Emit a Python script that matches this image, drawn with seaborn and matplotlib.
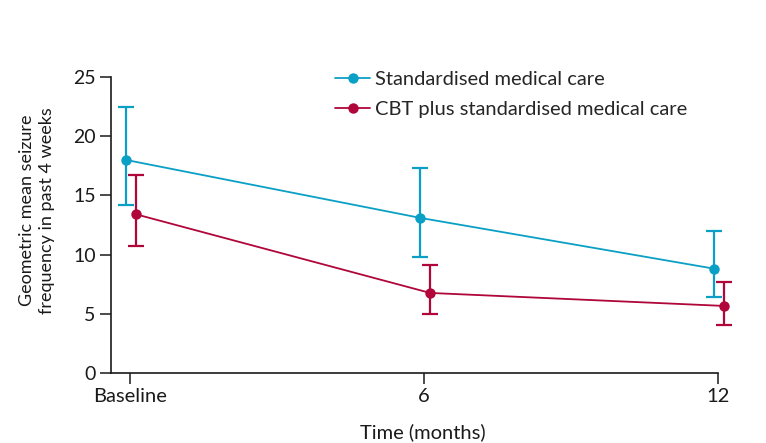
import numpy as np
import pandas as pd
import matplotlib
matplotlib.use("Agg")
import matplotlib.pyplot as plt
import seaborn as sns

# Follow-up times (months) and their tick labels
months = [0, 6, 12]
tick_labels = ["Baseline", "6", "12"]

groups = ["Standardised medical care", "CBT plus standardised medical care"]

# Geometric mean seizure frequency with 95% CI
smc_mean = [18.0, 13.1, 8.8]
smc_lower = [14.2, 9.8, 6.4]
smc_upper = [22.5, 17.35, 12.0]

cbt_mean = [13.4, 6.75, 5.65]
cbt_lower = [10.7, 5.0, 4.05]
cbt_upper = [16.75, 9.1, 7.7]

sns.set_theme(style="ticks")
plt.rcParams["font.family"] = ["Lato", "DejaVu Sans"]

FS = 14.5
INK = "#1a1a1a"
colors = {groups[0]: "#0a9fc5", groups[1]: "#b0063a"}
dodge = {groups[0]: -0.075, groups[1]: 0.125}

rows = []
for g, m, lo, hi in [(groups[0], smc_mean, smc_lower, smc_upper),
                     (groups[1], cbt_mean, cbt_lower, cbt_upper)]:
    for t, v, l, h in zip(months, m, lo, hi):
        rows.append({"group": g, "month": t, "x": t + dodge[g],
                     "value": v, "lower": l, "upper": h})
df = pd.DataFrame(rows)

fig = plt.figure(figsize=(7.66, 4.43), dpi=100)
ax = fig.add_axes([0.1449, 0.1587, 0.9373 - 0.1449, 0.8255 - 0.1587])

for g in groups:
    sub = df[df["group"] == g]
    ax.errorbar(sub["x"], sub["value"],
                yerr=[sub["value"] - sub["lower"], sub["upper"] - sub["value"]],
                fmt="none", ecolor=colors[g], elinewidth=1.6, capsize=5.5,
                capthick=1.6, clip_on=False, zorder=2)

sns.lineplot(data=df, x="x", y="value", hue="group", hue_order=groups,
             palette=colors, marker="o", markersize=7.5, markeredgewidth=0,
             linewidth=1.3, ax=ax, clip_on=False, zorder=3, legend=True)

ax.set_xlim(-0.39, 12)
ax.set_ylim(0, 25)
ax.set_xticks(months)
ax.set_xticklabels(tick_labels)
ax.set_yticks([0, 5, 10, 15, 20, 25])
sns.despine(ax=ax)
for s in ["left", "bottom"]:
    ax.spines[s].set_linewidth(1.2)
    ax.spines[s].set_color(INK)
ax.tick_params(axis="both", length=8, width=1.1, color=INK,
               labelsize=FS, labelcolor=INK, pad=3)
ax.tick_params(axis="y", labelsize=FS - 0.5)

ax.set_xlabel("Time (months)", fontsize=FS, color=INK)
ax.xaxis.set_label_coords(0.514, -0.17)
ax.set_ylabel("Geometric mean seizure\nfrequency in past 4 weeks",
              fontsize=13, color=INK, linespacing=1.35)
ax.yaxis.set_label_coords(-0.092, 0.55)

leg = ax.legend(loc="upper left", bbox_to_anchor=(0.369, 1.023), frameon=False,
                fontsize=FS, handlelength=1.75, handletextpad=0.25,
                labelspacing=0.65, borderaxespad=0, borderpad=0)
for h in leg.legend_handles:
    h.set_markersize(7.5)

fig.savefig("out.png", dpi=100)
